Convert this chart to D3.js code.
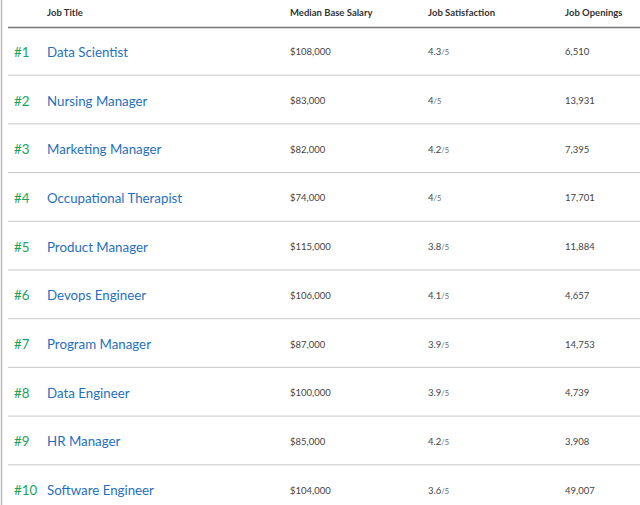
<!DOCTYPE html>
<html><head><meta charset="utf-8">
<script src="https://cdn.jsdelivr.net/npm/d3@7"></script>
<style>body{margin:0;background:#fff;font-family:Lato,sans-serif}</style>
</head><body><div id="chart"></div>
<script>
const titles = ['Data Scientist','Nursing Manager','Marketing Manager','Occupational Therapist','Product Manager','Devops Engineer','Program Manager','Data Engineer','HR Manager','Software Engineer'];
const salaries = [108000,83000,82000,74000,115000,106000,87000,100000,85000,104000];
const satisfaction = [4.3,4,4.2,4,3.8,4.1,3.9,3.9,4.2,3.6];
const openings = [6510,13931,7395,17701,11884,4657,14753,4739,3908,49007];
const headers = ['Job Title','Median Base Salary','Job Satisfaction','Job Openings'];

const width = 640, height = 505;
const svg = d3.select('#chart').append('svg').attr('width', width).attr('height', height);

// left border
svg.append('line').attr('x1', 1.5).attr('x2', 1.5).attr('y1', 0).attr('y2', height)
    .attr('stroke', '#bbb').attr('stroke-width', 1.5);

const y = d3.scaleBand().domain(d3.range(titles.length)).range([27, 27 + 48.7 * 10]);
const colX = [47, 290, 428, 565];

svg.selectAll('.hdr').data(headers).join('text')
    .attr('x', (d, i) => colX[i]).attr('y', 15.5)
    .attr('font-size', 9.5).attr('font-weight', 'bold').attr('fill', '#333')
    .text(d => d);

svg.append('line').attr('x1', 8).attr('x2', width).attr('y1', 27.5).attr('y2', 27.5)
    .attr('stroke', '#777').attr('stroke-width', 1.5);

const rows = svg.selectAll('.row').data(titles).join('g')
    .attr('transform', (d, i) => `translate(0,${y(i)})`);

const fmt = d3.format(',');
const mid = y.bandwidth() / 2 + 4;

rows.append('text').attr('x', 14).attr('y', mid + 1.5).attr('font-size', 13.3).attr('fill', '#1aa35a')
    .text((d, i) => '#' + (i + 1));
rows.append('text').attr('x', colX[0]).attr('y', mid + 1.5).attr('font-size', 13.3).attr('fill', '#1f6fbf')
    .text(d => d);
rows.append('text').attr('x', colX[1]).attr('y', mid).attr('font-size', 9.5).attr('fill', '#444')
    .text((d, i) => '$' + fmt(salaries[i]));
const sat = rows.append('text').attr('x', colX[2]).attr('y', mid).attr('font-size', 9.5).attr('fill', '#444');
sat.append('tspan').text((d, i) => satisfaction[i]);
sat.append('tspan').attr('font-size', 7.5).attr('fill', '#666').text('/5');
rows.append('text').attr('x', colX[3]).attr('y', mid).attr('font-size', 9.5).attr('fill', '#444')
    .text((d, i) => fmt(openings[i]));

rows.filter((d, i) => i < titles.length - 1).append('line')
    .attr('x1', 8).attr('x2', width).attr('y1', y.bandwidth() - 0.5).attr('y2', y.bandwidth() - 0.5)
    .attr('stroke', '#c8c8c8').attr('stroke-width', 1);
</script></body></html>
